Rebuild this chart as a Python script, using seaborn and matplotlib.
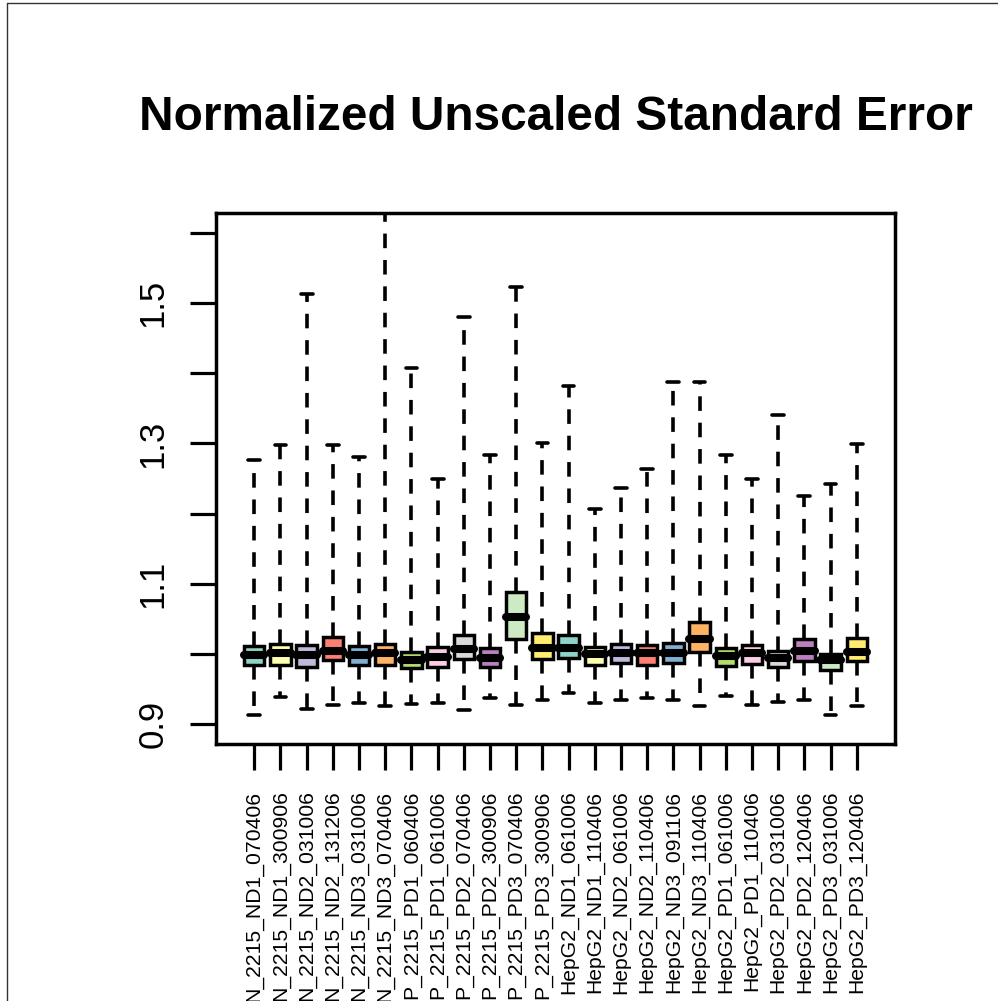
import numpy as np
import pandas as pd
import matplotlib
matplotlib.use("Agg")
import matplotlib.pyplot as plt
from matplotlib.lines import Line2D
import seaborn as sns

samples = [
    "N_2215_ND1_070406", "N_2215_ND1_300906", "N_2215_ND2_031006", "N_2215_ND2_131206",
    "N_2215_ND3_031006", "N_2215_ND3_070406", "P_2215_PD1_060406", "P_2215_PD1_061006",
    "P_2215_PD2_070406", "P_2215_PD2_300906", "P_2215_PD3_070406", "P_2215_PD3_300906",
    "HepG2_ND1_061006", "HepG2_ND1_110406", "HepG2_ND2_061006", "HepG2_ND2_110406",
    "HepG2_ND3_091106", "HepG2_ND3_110406", "HepG2_PD1_061006", "HepG2_PD1_110406",
    "HepG2_PD2_031006", "HepG2_PD2_120406", "HepG2_PD3_031006", "HepG2_PD3_120406",
]
lower = [0.914, 0.939, 0.922, 0.927, 0.930, 0.926, 0.929, 0.930, 0.920, 0.937, 0.927, 0.935,
         0.944, 0.930, 0.934, 0.937, 0.935, 0.926, 0.940, 0.927, 0.932, 0.935, 0.913, 0.926]
q1 = [0.984, 0.984, 0.982, 0.991, 0.984, 0.985, 0.980, 0.982, 0.993, 0.982, 1.022, 0.993,
      0.994, 0.984, 0.987, 0.985, 0.987, 1.003, 0.983, 0.986, 0.981, 0.990, 0.977, 0.990]
median = [0.999, 1.001, 0.999, 1.005, 0.999, 1.001, 0.992, 0.996, 1.007, 0.995, 1.053, 1.008,
          1.008, 1.000, 1.001, 1.001, 1.002, 1.021, 0.997, 1.001, 0.995, 1.005, 0.991, 1.003]
q3 = [1.011, 1.014, 1.013, 1.025, 1.012, 1.014, 1.003, 1.010, 1.027, 1.009, 1.089, 1.030,
      1.027, 1.010, 1.014, 1.013, 1.016, 1.046, 1.008, 1.013, 1.005, 1.021, 1.000, 1.023]
upper = [1.277, 1.297, 1.513, 1.298, 1.280, 1.700, 1.408, 1.249, 1.480, 1.284, 1.522, 1.300,
         1.382, 1.207, 1.237, 1.263, 1.387, 1.387, 1.284, 1.249, 1.341, 1.225, 1.242, 1.299]

ytick_values = [0.9, 1.0, 1.1, 1.2, 1.3, 1.4, 1.5, 1.6]
ytick_labels = ["0.9", "", "1.1", "", "1.3", "", "1.5", ""]
title = "Normalized Unscaled Standard Error"

rows = []
for i, s in enumerate(samples):
    for v in (lower[i], q1[i], median[i], q3[i], upper[i]):
        rows.append({"sample": s, "value": v})
df = pd.DataFrame(rows)

sns.set_style("white")
plt.rcParams["font.family"] = ["Liberation Sans", "DejaVu Sans"]
plt.rcParams["lines.scale_dashes"] = False
plt.rcParams["text.color"] = "black"

W, H = 998, 1001
fig = plt.figure(figsize=(W / 100, H / 100), dpi=100)
ax = fig.add_axes([216 / W, 1 - 744 / H, (895 - 216) / W, (744 - 213) / H])

palette = sns.color_palette("Set3", 12) * 2
sns.boxplot(
    data=df, x="sample", y="value", hue="sample", palette=palette, legend=False,
    order=samples, hue_order=samples, width=0.78, whis=(0, 100), ax=ax,
    linecolor="black", linewidth=2.5, saturation=1, capwidths=0.45,
    boxprops=dict(edgecolor="black", linewidth=2.5),
    medianprops=dict(color="black", linewidth=5.8, solid_capstyle="round"),
    whiskerprops=dict(color="black", linewidth=2.6, linestyle=(0, (10.5, 8.5))),
    capprops=dict(color="black", linewidth=2.6),
)

ax.set_xlim(-1.46, 24.46)
ax.set_ylim(0.872, 1.628)
ax.set_yticks(ytick_values)
ax.set_yticklabels(ytick_labels, rotation=90, va="center", fontsize=25)
ax.set_xticks(range(len(samples)))
ax.set_xticklabels(samples, rotation=90, fontsize=15.2)
ax.set_xlabel("")
ax.set_ylabel("")
ax.tick_params(axis="both", direction="out", length=18.5, width=2.3, color="black",
               labelcolor="black", left=True, bottom=True)
ax.tick_params(axis="y", pad=15)
ax.tick_params(axis="x", pad=15)
for sp in ax.spines.values():
    sp.set_visible(True)
    sp.set_color("black")
    sp.set_linewidth(2.5)

fig.text(556 / W, 1 - 130 / H, title, ha="center", va="baseline",
         fontsize=34.4, fontweight="bold", color="black")

# thin frame lines at top and left edge of the image
fig.add_artist(Line2D([7 / W, 1], [1 - 3 / H, 1 - 3 / H], transform=fig.transFigure,
                      color="#333333", linewidth=1))
fig.add_artist(Line2D([7 / W, 7 / W], [0, 1 - 3 / H], transform=fig.transFigure,
                      color="#333333", linewidth=1))

fig.savefig("out.png", dpi=100)
